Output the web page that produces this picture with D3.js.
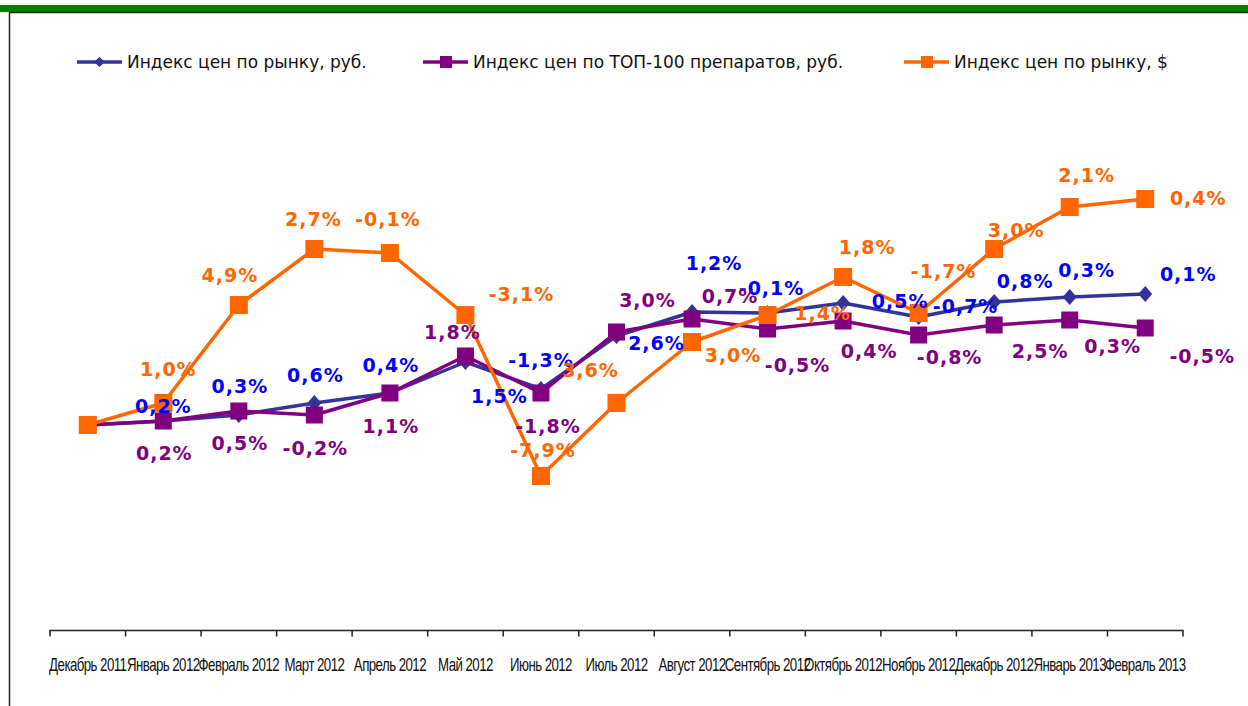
<!DOCTYPE html>
<meta charset="utf-8">
<style>
body { margin: 0; background: #fff; }
svg { display: block; font-family: 'DejaVu Sans', Verdana, sans-serif; }
.legend text { font-size: 17px; fill: #111; }
.axisX text { font-size: 19px; fill: #111; letter-spacing: -0.8px; }
.axisX path, .axisX line { stroke: #222; stroke-width: 1.5; }
.lbl { font-size: 19px; font-weight: bold; letter-spacing: 1px; }
</style>
<div id='chart'></div>
<script src='https://cdn.jsdelivr.net/npm/d3@7'></script>
<script>

// categories
const months = ['Декабрь 2011', 'Январь 2012', 'Февраль 2012', 'Март  2012', 'Апрель 2012',
    'Май 2012', 'Июнь 2012', 'Июль 2012', 'Август  2012', 'Сентябрь 2012', 'Октябрь 2012',
    'Ноябрь 2012', 'Декабрь 2012', 'Январь 2013', 'Февраль 2013'];

// index values (Dec 2011 = 100)
const marketRub = [100, 100.2, 100.5, 101.1, 101.6, 103.15, 101.8, 104.45, 105.65, 105.6, 106.1, 105.4, 106.15, 106.4, 106.55];
const top100Rub = [100, 100.2, 100.7, 100.5, 101.6, 103.45, 101.6, 104.65, 105.3, 104.8, 105.2, 104.5, 105.0, 105.25, 104.85];
const marketUsd = [100, 101.1, 106.0, 108.8, 108.6, 105.5, 97.45, 101.1, 104.15, 105.5, 107.4, 105.6, 108.8, 110.9, 111.3];

// data labels (month-on-month change)
const marketRubLabels = ['', '0,2%', '0,3%', '0,6%', '0,4%', '1,5%', '-1,3%', '2,6%', '1,2%', '-0,1%', '0,5%', '-0,7%', '0,8%', '0,3%', '0,1%'];
const top100RubLabels = ['', '0,2%', '0,5%', '-0,2%', '1,1%', '1,8%', '-1,8%', '3,0%', '0,7%', '-0,5%', '0,4%', '-0,8%', '2,5%', '0,3%', '-0,5%'];
const marketUsdLabels = ['', '1,0%', '4,9%', '2,7%', '-0,1%', '-3,1%', '-7,9%', '3,6%', '3,0%', '1,4%', '1,8%', '-1,7%', '3,0%', '2,1%', '0,4%'];

const seriesNames = ['Индекс цен по рынку, руб.', 'Индекс цен по ТОП-100 препаратов, руб.', 'Индекс цен по рынку, $'];

// label placement relative to each point (layout only)
const offBlue = [[0,0],[0,-15],[1,-29],[1,-28],[1,-28],[34,34],[0,-29],[40,7],[22,-49],[4,-25],[57,-2],[47,-11],[31,-21],[17,-27],[43,-20]];
const offPurple = [[0,0],[1,32],[1,32],[1,33],[1,33],[-13,-24],[7,33],[31,-32],[38,-23],[30,36],[26,30],[31,22],[46,26],[43,26],[57,28]];
const offOrange = [[0,0],[5,-34],[-9,-30],[-1,-30],[-2,-34],[56,-21],[2,-26],[-26,-33],[41,13],[55,-2],[24,-30],[25,-42],[22,-19],[17,-32],[53,-1]];

const width = 1248, height = 706;

const svg = d3.select('#chart').append('svg')
    .attr('width', width)
    .attr('height', height);

// frame
svg.append('rect').attr('x', 0).attr('y', 5).attr('width', width).attr('height', 7).attr('fill', '#008000');
svg.append('line').attr('x1', 9).attr('x2', width).attr('y1', 12.5).attr('y2', 12.5).attr('stroke', '#222').attr('stroke-width', 1.5);
svg.append('line').attr('x1', 9.5).attr('x2', 9.5).attr('y1', 12).attr('y2', height).attr('stroke', '#222').attr('stroke-width', 1.5);

const x = d3.scaleBand()
    .domain(months)
    .range([50, 1183]);

const cx = d => x(d) + x.bandwidth() / 2;

const y = d3.scaleLinear()
    .domain([90, 110])
    .range([625, 225]);

// x axis
const xAxis = d3.axisBottom(x)
    .tickSizeInner(0)
    .tickSizeOuter(6)
    .tickPadding(27);

const gAxisX = svg.append('g')
    .attr('class', 'axisX')
    .attr('transform', 'translate(0,630.5)')
    .call(xAxis);

gAxisX.select('.domain').attr('d', 'M50,6V0H1183V6');
gAxisX.selectAll('.tick text')
    .attr('font-family', null)
    .attr('font-size', null)
    .attr('transform', 'scale(0.7,1)');

gAxisX.selectAll('.sep')
    .data(months.slice(1))
    .join('line')
    .attr('class', 'sep')
    .attr('x1', d => x(d)).attr('x2', d => x(d))
    .attr('y1', 0).attr('y2', 6);

const series = [
    { values: marketRub, labels: marketRubLabels, off: offBlue, line: '#333399', text: '#0000FF', marker: 'diamond' },
    { values: top100Rub, labels: top100RubLabels, off: offPurple, line: '#800080', text: '#800080', marker: 'square', size: 17 },
    { values: marketUsd, labels: marketUsdLabels, off: offOrange, line: '#FF6600', text: '#FF6600', marker: 'square', size: 18 }
];

const line = d3.line()
    .x((d, i) => cx(months[i]))
    .y(d => y(d));

function drawMarker(g, s, px, py) {
    if (s.marker === 'diamond') {
        g.append('path')
            .attr('d', `M${px},${py - 8}L${px + 7},${py}L${px},${py + 8}L${px - 7},${py}Z`)
            .attr('fill', s.line);
    } else {
        g.append('rect')
            .attr('x', px - s.size / 2).attr('y', py - s.size / 2)
            .attr('width', s.size).attr('height', s.size)
            .attr('fill', s.line);
    }
}

series.forEach(s => {
    const g = svg.append('g');
    g.append('path')
        .datum(s.values)
        .attr('d', line)
        .attr('fill', 'none')
        .attr('stroke', s.line)
        .attr('stroke-width', 3.5)
        .attr('stroke-linejoin', 'round');
    s.values.forEach((v, i) => drawMarker(g, s, cx(months[i]), y(v)));
});

// data labels on top
series.forEach(s => {
    svg.append('g').selectAll('text')
        .data(s.values)
        .join('text')
        .attr('class', 'lbl')
        .attr('x', (d, i) => cx(months[i]) + s.off[i][0])
        .attr('y', (d, i) => y(d) + s.off[i][1])
        .attr('dy', '0.36em')
        .attr('text-anchor', 'middle')
        .attr('fill', s.text)
        .text((d, i) => s.labels[i]);
});

// legend
const legendX = [77, 423, 904];
const legend = svg.append('g').attr('class', 'legend');
series.forEach((s, i) => {
    const g = legend.append('g').attr('transform', `translate(${legendX[i]},62)`);
    g.append('line').attr('x1', 0).attr('x2', 45).attr('stroke', s.line).attr('stroke-width', 3.5);
    if (s.marker === 'diamond') {
        g.append('path').attr('d', 'M22.5,-5L28,0L22.5,5L17,0Z').attr('fill', s.line);
    } else {
        g.append('rect').attr('x', 17).attr('y', -6).attr('width', 12).attr('height', 12).attr('fill', s.line);
    }
    g.append('text')
        .attr('x', 50)
        .attr('dy', '0.35em')
        .text(seriesNames[i]);
});

</script>
